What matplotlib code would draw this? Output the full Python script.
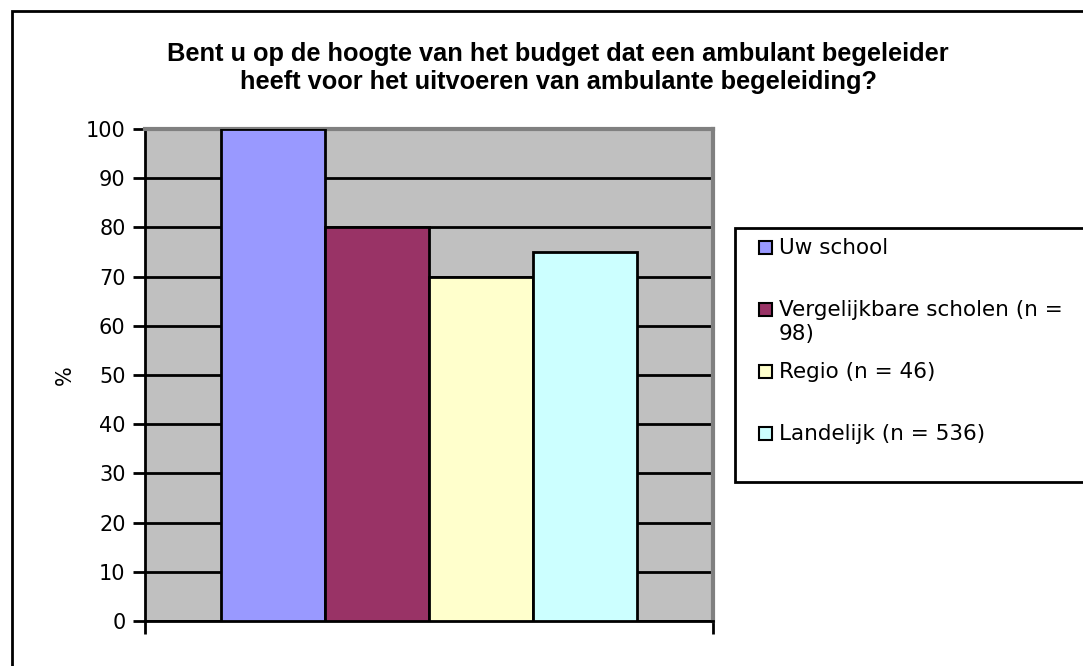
import matplotlib.pyplot as plt
from matplotlib.patches import Rectangle

# data
series = ['Uw school', 'Vergelijkbare scholen (n =\n98)', 'Regio (n = 46)', 'Landelijk (n = 536)']
values = [100, 80, 70, 75]
colors = ['#9999FF', '#993366', '#FFFFCC', '#CCFFFF']
yticks = list(range(0, 101, 10))
title = 'Bent u op de hoogte van het budget dat een ambulant begeleider\nheeft voor het uitvoeren van ambulante begeleiding?'

W, H = 1083, 666
fig = plt.figure(figsize=(W / 100, H / 100), dpi=100)

# outer chart border (runs off the right/bottom edge)
fig.patches.append(Rectangle((12 / W, -0.1), 1.2, 1 - 11 / H + 0.1, transform=fig.transFigure,
                             fill=False, edgecolor='black', linewidth=2))

ax = fig.add_axes([145 / W, 1 - 621 / H, (713 - 145) / W, (621 - 129) / H])
ax.set_facecolor('#C0C0C0')

bw = 104.25 / 568
start = 0.5 - 2 * bw
for i, (v, c) in enumerate(zip(values, colors)):
    ax.bar(start + bw * (i + 0.5), v, width=bw, color=c, edgecolor='black', linewidth=2, zorder=3)

ax.set_xlim(0, 1)
ax.set_ylim(0, 100)
ax.set_yticks(yticks)
ax.set_xticks([0, 1])
ax.set_xticklabels([])
ax.yaxis.grid(True, color='black', linewidth=2, zorder=1)
ax.set_axisbelow(True)
ax.tick_params(axis='y', length=9, width=2, labelsize=15, pad=5, colors='black')
ax.tick_params(axis='x', length=9, width=2)
for s in ['top', 'right']:
    ax.spines[s].set_color('#808080')
    ax.spines[s].set_linewidth(3)
for s in ['left', 'bottom']:
    ax.spines[s].set_color('black')
    ax.spines[s].set_linewidth(2)
ax.set_ylabel('%', fontsize=15)
ax.yaxis.set_label_coords((75 - 145) / 568, 0.5)

fig.text(558 / W, 1 - 68 / H, title, ha='center', va='center',
         fontsize=18.3, fontweight='bold', family='Liberation Sans', linespacing=1.2)

# legend box (runs off the right edge)
fig.patches.append(Rectangle((735 / W, 1 - 482 / H), 0.5, (482 - 228) / H, transform=fig.transFigure,
                             facecolor='white', edgecolor='black', linewidth=2))
for i, (lab, c) in enumerate(zip(series, colors)):
    ytop = 241 + 62 * i
    fig.patches.append(Rectangle((759 / W, 1 - (ytop + 13) / H), 13 / W, 13 / H, transform=fig.transFigure,
                                 facecolor=c, edgecolor='black', linewidth=1.5))
    fig.text(779 / W, 1 - (ytop - 3) / H, lab, ha='left', va='top', fontsize=15.5, linespacing=1.25)

fig.savefig('out.png', dpi=100)
